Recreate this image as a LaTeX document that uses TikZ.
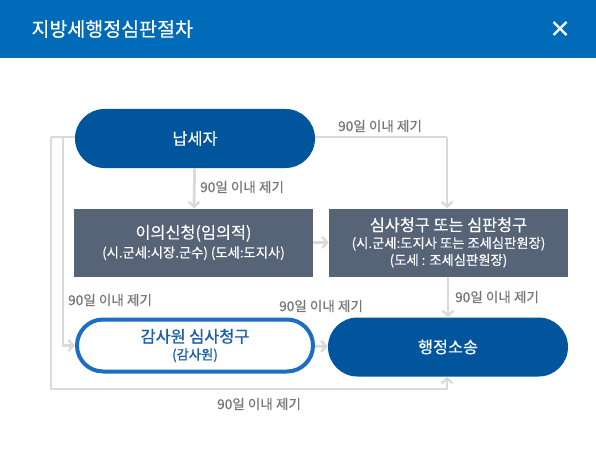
\documentclass[tikz,border=0pt]{standalone}
\usepackage{fontspec}
\setmainfont{Noto Sans CJK KR}
\newfontfamily\medfont{Noto Sans CJK KR}[FakeBold=0.35]
\newfontfamily\semifont{Noto Sans CJK KR}[FakeBold=1.1]
\usetikzlibrary{arrows.meta}

\definecolor{headblue}{HTML}{006BB8}
\definecolor{pillblue}{HTML}{00559C}
\definecolor{boxgray}{HTML}{576377}
\definecolor{ringblue}{HTML}{1B6EC2}
\definecolor{txtblue}{HTML}{1A5FA8}
\definecolor{linegray}{HTML}{DADADA}
\definecolor{labelgray}{HTML}{757575}

\newcommand{\bigline}{\fontsize{16.3}{17}\selectfont}
\newcommand{\smallline}{\fontsize{13.3}{17}\selectfont}

\tikzset{
  pill/.style={fill=pillblue, text=white, minimum width=240pt, minimum height=59pt,
    rounded corners=29.5pt, font=\medfont\bigline},
  ringpill/.style={draw=ringblue, line width=4pt, fill=white, text=txtblue,
    minimum width=236pt, minimum height=52pt, rounded corners=26pt, align=center,
    font=\semifont\smallline},
  graybox/.style={fill=boxgray, text=white, minimum width=239pt, minimum height=68pt,
    align=center, font=\medfont\smallline},
  flow/.style={draw=linegray, line width=2.8pt, -{Straight Barb[length=5pt,width=11pt,line width=2.4pt]}},
  flowline/.style={draw=linegray, line width=2.8pt},
  lbl/.style={text=labelgray, font=\medfont\fontsize{13.6}{16}\selectfont, inner sep=0pt}
}

\begin{document}
\begin{tikzpicture}[x=1pt, y=-1pt]
\useasboundingbox (0,0) rectangle (596,465);

% Header band
\fill[headblue] (0,0) rectangle (596,58);
\node[anchor=west, text=white, font=\medfont\fontsize{19.5}{22}\selectfont] (title) at (28,29) {지방세행정심판절차};
\draw[white, line width=2.4pt] (553.5,22) -- (566.5,35);
\draw[white, line width=2.4pt] (553.5,35) -- (566.5,22);

% Nodes
\node[pill] (payer) at (195,138.5) {납세자};
\node[graybox] (objection) at (193.5,242.5) {{\bigline 이의신청(임의적)}\\[2pt]
  (시.군세:시장.군수) (도세:도지사)};
\node[graybox] (review) at (448.5,242.5) {{\bigline 심사청구 또는 심판청구}\\
  (시.군세:도지사 또는 조세심판원장)\\
  (도세 : 조세심판원장)};
\node[ringpill] (audit) at (195,345.5) {{\bigline 감사원 심사청구}\\
  (감사원)};
\node[pill] (lawsuit) at (448,347) {행정소송};

% Corner points of the routed lines
\coordinate (outertop) at (51,137);
\coordinate (innertop) at (63,137);
\coordinate (outerbot) at (51,389);
\coordinate (rightbot) at (447,389);
\coordinate (righttop) at (447,137);

% Connectors
\draw[flow] (payer) -- (objection);
\draw[flow] (objection) -- (review);
\draw[flow] (review.south -| lawsuit.north) -- (lawsuit.north);
\draw[flow] (audit) -- (lawsuit);
\draw[flowline] (payer.east |- righttop) -- (righttop);
\draw[flow] (righttop) -- (righttop |- review.north);
\draw[flowline] (payer.west |- outertop) -- (outertop);
\draw[flow] (outertop) -- (outerbot) -- (rightbot) -- (rightbot |- lawsuit.south);
\draw[flow] (innertop) -- (innertop |- audit.west) -- (audit.west);

% Labels
\node[lbl, anchor=west] (l1) at (200,187) {90일 이내 제기};
\node[lbl, anchor=west] (l2) at (338,126) {90일 이내 제기};
\node[lbl, anchor=west] (l3) at (455,297) {90일 이내 제기};
\node[lbl, anchor=west] (l4) at (279,306) {90일 이내 제기};
\node[lbl, anchor=west] (l5) at (68,300) {90일 이내 제기};
\node[lbl, anchor=west] (l6) at (217,404) {90일 이내 제기};

\end{tikzpicture}
\end{document}
